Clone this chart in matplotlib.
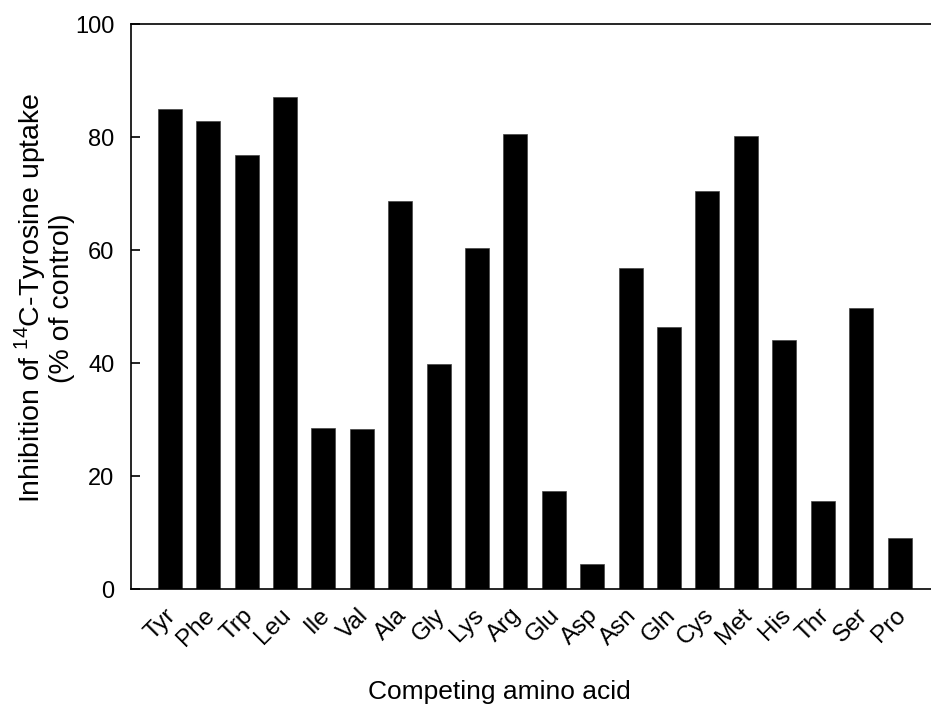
import matplotlib
matplotlib.use('Agg')
import matplotlib.pyplot as plt
from matplotlib.transforms import ScaledTranslation

amino_acids = ['Tyr', 'Phe', 'Trp', 'Leu', 'Ile', 'Val', 'Ala', 'Gly', 'Lys', 'Arg',
               'Glu', 'Asp', 'Asn', 'Gln', 'Cys', 'Met', 'His', 'Thr', 'Ser', 'Pro']
inhibition = [85.0, 82.9, 76.8, 87.1, 28.5, 28.3, 68.6, 39.9, 60.3, 80.6,
              17.4, 4.5, 56.9, 46.4, 70.4, 80.1, 44.0, 15.5, 49.7, 9.1]
y_ticks = [0, 20, 40, 60, 80, 100]

plt.rcParams['font.family'] = ['Liberation Sans', 'DejaVu Sans']
plt.rcParams['mathtext.fontset'] = 'custom'
plt.rcParams['mathtext.rm'] = 'Liberation Sans'

W, H = 931, 715
fig = plt.figure(figsize=(W / 100, H / 100), dpi=100)
ax = fig.add_axes([0.1407, 0.1762, 0.8593, 0.7902])

x = list(range(len(amino_acids)))
ax.bar(x, inhibition, width=0.625, color='black', edgecolor='#444444', linewidth=0.5)

ax.set_xlim(-1.01, 19.82)
ax.set_ylim(0, 100)
ax.set_yticks(y_ticks)
ax.tick_params(axis='y', direction='in', length=6.5, width=1.2, labelsize=17, pad=12)
ax.tick_params(axis='x', length=0, labelsize=17.5, pad=11)
ax.set_xticks(x)
ax.set_xticklabels(amino_acids, rotation=45, ha='right', va='top', rotation_mode='anchor')
# nudge labels so their upper end sits just right of the bar centre
for lbl in ax.get_xticklabels():
    lbl.set_transform(lbl.get_transform() + ScaledTranslation(-0.05, 0, fig.dpi_scale_trans))

for s in ax.spines.values():
    s.set_linewidth(1.2)
ax.spines['right'].set_visible(False)

# axis titles placed in figure pixels
fig.text(44 / W, 1 - 298 / H,
         'Inhibition of $^{\\mathregular{14}}$C-Tyrosine uptake\n(% of control)',
         rotation=90, ha='center', va='center', multialignment='center',
         fontsize=20.5, linespacing=1.05)
fig.text(499 / W, 1 - 692 / H, 'Competing amino acid',
         ha='center', va='center', fontsize=19)

fig.savefig('out.png', dpi=100)
